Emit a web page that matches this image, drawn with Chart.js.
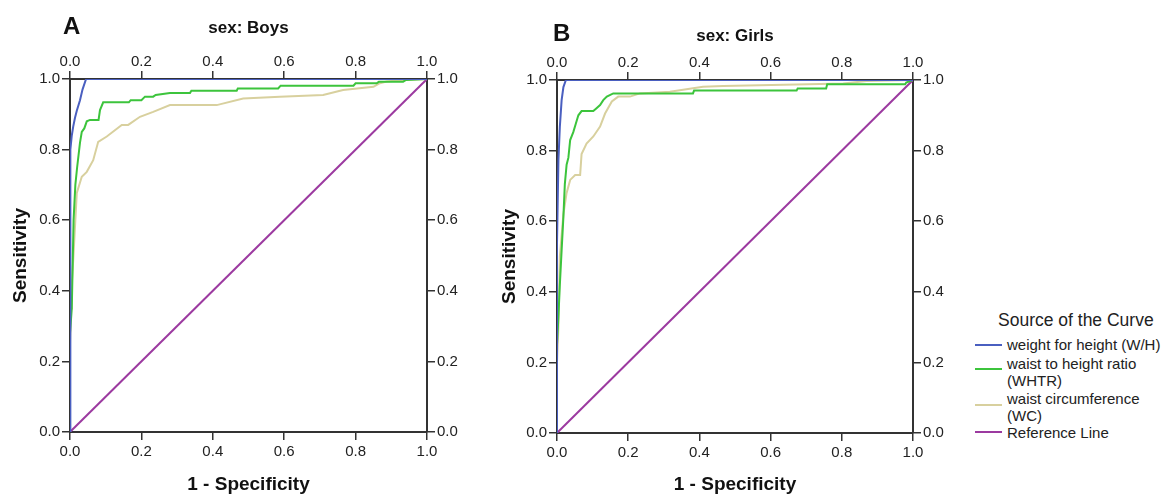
<!DOCTYPE html>
<html>
<head>
<meta charset="utf-8">
<script src="https://cdn.jsdelivr.net/npm/chart.js@4"></script>
<style>
  body { margin: 0; background: #fff; }
  #wrap { position: relative; width: 1169px; height: 497px; overflow: hidden; font-family: "Liberation Sans", Arial, sans-serif; color: #222; }
  canvas { position: absolute; top: 0; }
  .panel { position: absolute; font-weight: bold; font-size: 24px; color: #111; }
  .lg { position: absolute; font-size: 15px; line-height: 17px; white-space: nowrap; }
  .sw { position: absolute; width: 27px; height: 2px; }
</style>
</head>
<body>
<div id="wrap">
  <canvas id="boys" width="480" height="497" style="left:0"></canvas>
  <canvas id="girls" width="480" height="497" style="left:488px"></canvas>
  <div class="panel" style="left:63px; top:12px">A</div>
  <div class="panel" style="left:553px; top:19px">B</div>

  <div class="lg" style="left:998px; top:310px; font-size:17.5px; line-height:20px">Source of the Curve</div>
  <div class="sw" style="left:975px; top:344px; background:#4a5fc0"></div>
  <div class="lg" style="left:1007px; top:336px">weight for height (W/H)</div>
  <div class="sw" style="left:975px; top:368px; background:#3cc43c"></div>
  <div class="lg" style="left:1007px; top:355px">waist to height ratio<br>(WHTR)</div>
  <div class="sw" style="left:975px; top:404px; background:#d8d09e"></div>
  <div class="lg" style="left:1007px; top:390px">waist circumference<br>(WC)</div>
  <div class="sw" style="left:975px; top:431px; background:#9c3aa0"></div>
  <div class="lg" style="left:1007px; top:424px">Reference Line</div>
</div>
<script>
// 1 - specificity (x) and sensitivity (y)
const boysWH_x = [0, 0, 0.002, 0.005, 0.009, 0.014, 0.019, 0.028, 0.035, 0.045, 1];
const boysWH_y = [0, 0.6, 0.80, 0.84, 0.865, 0.89, 0.91, 0.94, 0.97, 1.0, 1.0];

const boysWHTR_x = [0, 0, 0.005, 0.008, 0.01, 0.015, 0.02, 0.028, 0.033, 0.04, 0.047, 0.056, 0.08, 0.084, 0.093, 0.165, 0.17, 0.2, 0.21, 0.233, 0.24, 0.28, 0.336, 0.34, 0.467, 0.47, 0.583, 0.59, 0.794, 0.8, 0.859, 0.865, 0.933, 0.94, 1];
const boysWHTR_y = [0, 0.28, 0.35, 0.5, 0.6, 0.7, 0.75, 0.82, 0.85, 0.86, 0.88, 0.884, 0.884, 0.912, 0.934, 0.934, 0.94, 0.94, 0.95, 0.95, 0.955, 0.96, 0.96, 0.967, 0.967, 0.973, 0.973, 0.981, 0.981, 0.988, 0.988, 0.992, 0.992, 0.997, 1];

const boysWC_x = [0, 0, 0.003, 0.005, 0.009, 0.019, 0.033, 0.047, 0.065, 0.079, 0.103, 0.145, 0.163, 0.196, 0.233, 0.28, 0.411, 0.485, 0.588, 0.709, 0.765, 0.85, 0.868, 0.887, 0.933, 1];
const boysWC_y = [0, 0.25, 0.35, 0.42, 0.487, 0.677, 0.723, 0.737, 0.77, 0.822, 0.837, 0.87, 0.87, 0.893, 0.907, 0.926, 0.926, 0.945, 0.95, 0.955, 0.969, 0.978, 0.988, 0.993, 0.997, 1];

const girlsWH_x = [0, 0, 0.004, 0.008, 0.013, 0.018, 0.025, 1];
const girlsWH_y = [0, 0.54, 0.773, 0.868, 0.943, 0.98, 1, 1];

const girlsWHTR_x = [0, 0, 0.004, 0.008, 0.013, 0.018, 0.022, 0.027, 0.032, 0.037, 0.046, 0.053, 0.06, 0.069, 0.102, 0.111, 0.121, 0.13, 0.14, 0.158, 0.382, 0.385, 0.673, 0.676, 0.756, 0.759, 0.978, 0.981, 1];
const girlsWHTR_y = [0, 0.25, 0.33, 0.42, 0.518, 0.613, 0.705, 0.76, 0.78, 0.83, 0.853, 0.877, 0.9, 0.912, 0.912, 0.92, 0.929, 0.943, 0.953, 0.962, 0.962, 0.97, 0.97, 0.976, 0.976, 0.988, 0.988, 0.993, 1];

const girlsWC_x = [0, 0, 0.004, 0.008, 0.018, 0.027, 0.037, 0.051, 0.065, 0.069, 0.083, 0.102, 0.121, 0.135, 0.154, 0.172, 0.205, 0.233, 0.317, 0.41, 0.467, 0.739, 0.804, 0.87, 1];
const girlsWC_y = [0, 0.2, 0.3, 0.5, 0.62, 0.68, 0.717, 0.731, 0.731, 0.79, 0.82, 0.84, 0.868, 0.905, 0.939, 0.953, 0.953, 0.962, 0.967, 0.981, 0.983, 0.989, 0.99, 0.997, 1];

const refLine_x = [0, 1];
const refLine_y = [0, 1];

const tickValues = [0, 0.2, 0.4, 0.6, 0.8, 1.0];

const FONT = '"Liberation Sans", Arial, sans-serif';
const AXIS = '#333';

const pts = (xs, ys) => xs.map((x, i) => ({ x, y: ys[i] }));

const curve = (label, xs, ys, color) => ({
  label,
  data: pts(xs, ys),
  borderColor: color,
  borderWidth: 2,
  pointRadius: 0,
  tension: 0,
  fill: false
});

// one axis of the four-sided frame; size fixes the scale box
const axis = (position, size, title, tickPad, extra) => ({
  type: 'linear',
  position,
  display: true,
  min: 0,
  max: 1,
  afterFit: (s) => {
    if (position === 'top' || position === 'bottom') s.height = size; else s.width = size;
  },
  afterBuildTicks: (s) => { s.ticks = tickValues.map(v => ({ value: v })); },
  ticks: {
    callback: v => Number(v).toFixed(1),
    font: { family: FONT, size: 15 },
    color: '#222',
    padding: tickPad,
    maxRotation: 0,
    autoSkip: false
  },
  grid: { drawOnChartArea: false, drawTicks: true, tickLength: 8, color: AXIS, lineWidth: 1.5 },
  border: { display: true, color: AXIS, width: 2 },
  title: title ? Object.assign({ display: true, color: '#111' }, title) : { display: false },
  ...extra
});

const makeChart = (id, sets, title, box) => new Chart(document.getElementById(id), {
  type: 'line',
  data: { datasets: sets },
  options: {
    responsive: false,
    animation: false,
    layout: { padding: 0 },
    plugins: { legend: { display: false }, tooltip: { enabled: false } },
    scales: {
      x: axis('bottom', box.bottom, { text: '1 - Specificity', font: { family: FONT, size: 19, weight: 'bold' }, padding: { top: 0, bottom: 1 } }, 3),
      x2: axis('top', box.top, { text: title, font: { family: FONT, size: 17, weight: 'bold' }, padding: { top: box.titleTop, bottom: 0 } }, 0),
      y: axis('left', box.left, { text: 'Sensitivity', font: { family: FONT, size: 19, weight: 'bold' }, padding: { top: box.ytitle, bottom: 0 } }, 2),
      y2: axis('right', box.right, null, 2)
    }
  }
});

makeChart('boys', [
  curve('weight for height (W/H)', boysWH_x, boysWH_y, '#4a5fc0'),
  curve('waist to height ratio (WHTR)', boysWHTR_x, boysWHTR_y, '#3cc43c'),
  curve('waist circumference (WC)', boysWC_x, boysWC_y, '#d8d09e'),
  curve('Reference Line', refLine_x, refLine_y, '#9c3aa0')
], 'sex: Boys', { left: 70, right: 53, top: 79, bottom: 65, titleTop: 18, ytitle: 9 });

makeChart('girls', [
  curve('weight for height (W/H)', girlsWH_x, girlsWH_y, '#4a5fc0'),
  curve('waist to height ratio (WHTR)', girlsWHTR_x, girlsWHTR_y, '#3cc43c'),
  curve('waist circumference (WC)', girlsWC_x, girlsWC_y, '#d8d09e'),
  curve('Reference Line', refLine_x, refLine_y, '#9c3aa0')
], 'sex: Girls', { left: 69, right: 55, top: 80, bottom: 64, titleTop: 26, ytitle: 10 });
</script>
</body>
</html>
